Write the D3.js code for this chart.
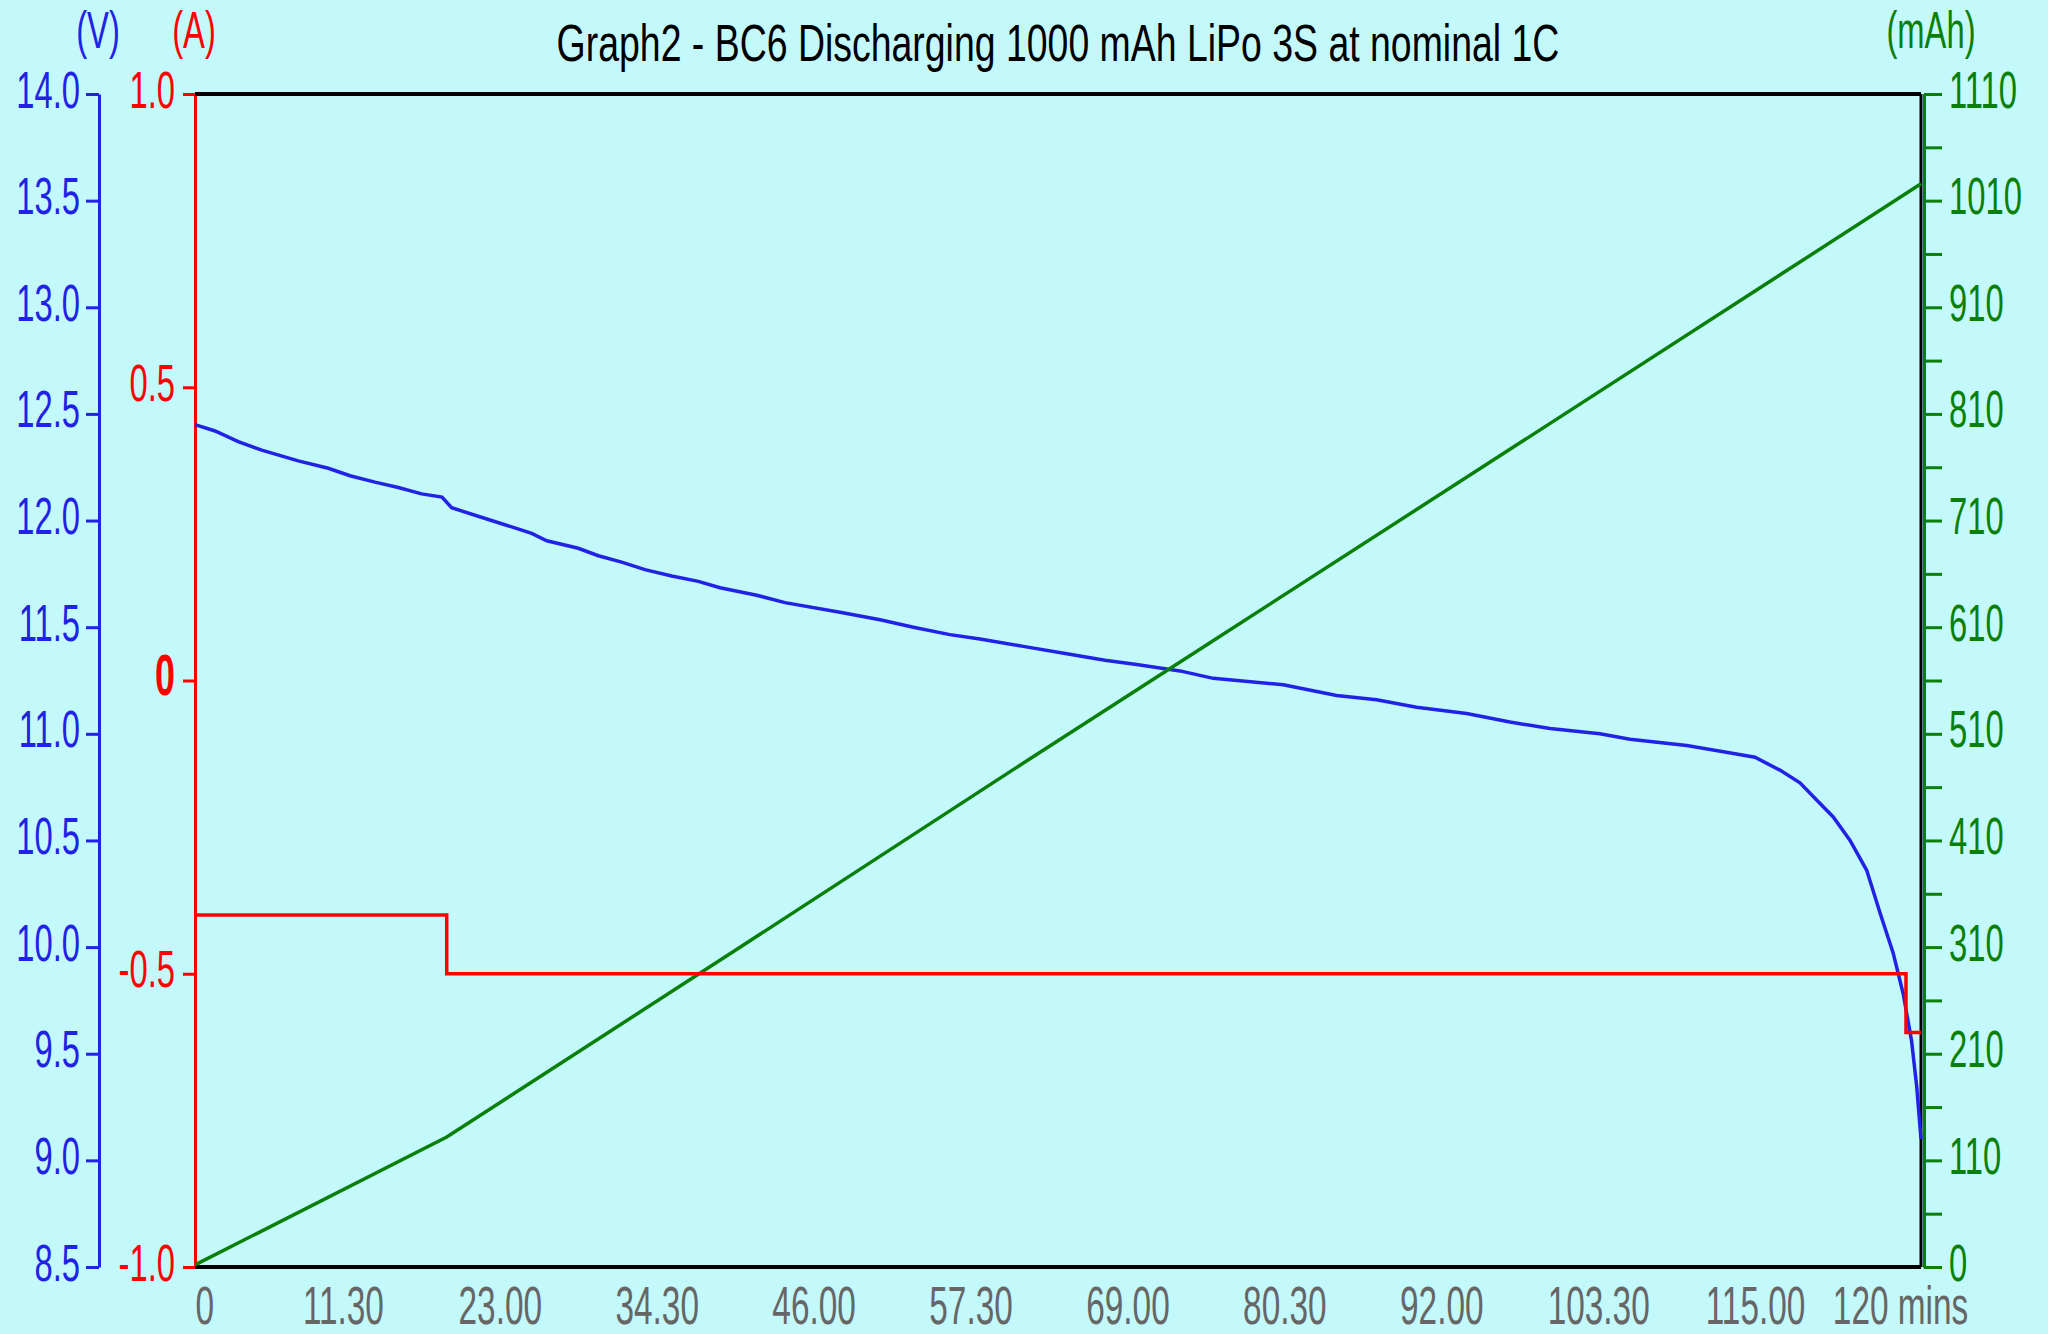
<!DOCTYPE html>
<html>
<head>
<meta charset="utf-8">
<script src="https://cdn.jsdelivr.net/npm/d3@7"></script>
<style>
  body { margin: 0; background: #c4f9fc; }
  svg { display: block; }
</style>
</head>
<body>
<svg id="chart"></svg>
<script>
// time in minutes
const timeMin = [0, 1.47, 3.17, 4.89, 7.57, 9.77, 11.36, 13.19, 14.9, 16.61, 18.1, 18.81, 21.5, 23.21, 24.68, 25.78, 28.09, 29.56, 31.27, 32.98, 34.94, 36.89, 38.48, 41.17, 43.24, 47.27, 50.21, 52.65, 55.33, 57.53, 60.71, 63.89, 66.69, 69.01, 72.19, 74.63, 79.76, 83.67, 86.6, 89.53, 93.2, 96.37, 99.31, 102.97, 105.17, 109.33, 112.13, 114.33, 116.16, 117.63, 118.85, 120.07, 121.3, 122.52, 123.5, 124.47, 125.2, 125.81, 126.18, 126.5];
const voltage = [12.45, 12.42, 12.37, 12.33, 12.28, 12.245, 12.21, 12.18, 12.155, 12.125, 12.11, 12.06, 12.005, 11.97, 11.94, 11.905, 11.87, 11.835, 11.805, 11.77, 11.74, 11.715, 11.685, 11.65, 11.615, 11.57, 11.535, 11.5, 11.465, 11.445, 11.41, 11.375, 11.345, 11.325, 11.295, 11.26, 11.23, 11.18, 11.16, 11.125, 11.095, 11.055, 11.025, 11.0, 10.975, 10.945, 10.915, 10.89, 10.83, 10.77, 10.69, 10.61, 10.5, 10.36, 10.16, 9.97, 9.78, 9.56, 9.35, 9.1];

const capTime = [0, 18.45, 40, 61.2, 74.9, 100, 126.5];
const capacity = [2, 123, 303, 481, 595, 804, 1025];

const currentTime = [0, 18.45, 125.4, 126.5];
const current = [-0.4, -0.5, -0.6, -0.6];

const timeTicks = [0, 11.5, 23, 34.5, 46, 57.5, 69, 80.5, 92, 103.5, 115, 120];
const timeTickLabels = ["0", "11.30", "23.00", "34.30", "46.00", "57.30", "69.00", "80.30", "92.00", "103.30", "115.00", "120 mins"];
const voltTicks = [8.5, 9.0, 9.5, 10.0, 10.5, 11.0, 11.5, 12.0, 12.5, 13.0, 13.5, 14.0];
const ampTicks = [-1, -0.5, 0, 0.5, 1];
const ampTickLabels = ["-1.0", "-0.5", "0", "0.5", "1.0"];
const mAhTickLabels = ["0", "110", "210", "310", "410", "510", "610", "710", "810", "910", "1010", "1110"];

const W = 2048, H = 1334;
const margin = { top: 94, right: 127, bottom: 67, left: 195 };
const BLUE = "#2222e6", RED = "#ff0000", GREEN = "#0a800a", GREY = "#666666";
const FONT = "'Liberation Sans', Arial, sans-serif";
const SX = 0.63;

const svg = d3.select("#chart").attr("width", W).attr("height", H);
svg.append("rect").attr("width", W).attr("height", H).attr("fill", "#c4f9fc");

const x = d3.scaleLinear().domain([0, 126.5]).range([margin.left, W - margin.right]);
const yV = d3.scaleLinear().domain([8.5, 14]).range([H - margin.bottom, margin.top]);
const yA = d3.scaleLinear().domain([-1, 1]).range([H - margin.bottom, margin.top]);
const yC = d3.scaleLinear().domain([0, 1110]).range([H - margin.bottom, margin.top]);

// narrow the text horizontally like the original bitmap
function squish(sel, sx) {
  sel.each(function () {
    const t = d3.select(this);
    const tx = +t.attr("x") || 0;
    t.attr("x", tx / sx).attr("transform", `scale(${sx},1)`);
  });
}

function styleAxis(g, color) {
  g.select(".domain").attr("stroke", color).attr("stroke-width", 3);
  g.selectAll(".tick line").attr("stroke", color).attr("stroke-width", 3);
  g.selectAll(".tick text")
    .attr("fill", color)
    .style("font-family", FONT)
    .style("font-size", "52px")
    .attr("dy", "0.25em");
}

// voltage axis
const vAxis = svg.append("g")
  .attr("transform", `translate(99,0)`)
  .call(d3.axisLeft(yV).tickValues(voltTicks).tickFormat(d3.format(".1f"))
    .tickSize(13).tickPadding(6).tickSizeOuter(0));
styleAxis(vAxis, BLUE);
squish(vAxis.selectAll(".tick text"), SX);

// current axis
const aAxis = svg.append("g")
  .attr("transform", `translate(${margin.left},0)`)
  .call(d3.axisLeft(yA).tickValues(ampTicks).tickFormat((d, i) => ampTickLabels[i])
    .tickSize(12).tickPadding(8).tickSizeOuter(0));
styleAxis(aAxis, RED);
aAxis.selectAll(".tick text").filter(d => d === 0)
  .style("font-weight", "bold").style("font-size", "57px");
squish(aAxis.selectAll(".tick text"), SX);

// capacity axis, 11 divisions with minor ticks
const capStep = 1110 / 11;
const capAxis = svg.append("g")
  .attr("transform", `translate(${W - margin.right + 3},0)`)
  .call(d3.axisRight(yC).tickValues(d3.range(12).map(i => i * capStep))
    .tickFormat((d, i) => mAhTickLabels[i]).tickSize(18).tickPadding(7).tickSizeOuter(0));
styleAxis(capAxis, GREEN);
squish(capAxis.selectAll(".tick text"), SX);
const capMinor = svg.append("g")
  .attr("transform", `translate(${W - margin.right + 3},0)`)
  .call(d3.axisRight(yC).tickValues(d3.range(11).map(i => (i + 0.5) * capStep))
    .tickFormat("").tickSize(18).tickSizeOuter(0));
styleAxis(capMinor, GREEN);

// time labels (no ticks)
const tAxis = svg.append("g")
  .attr("transform", `translate(0,${H - margin.bottom})`)
  .call(d3.axisBottom(x).tickValues(timeTicks).tickFormat((d, i) => timeTickLabels[i])
    .tickSize(0).tickPadding(0));
tAxis.select(".domain").remove();
tAxis.selectAll(".tick text")
  .attr("fill", GREY)
  .style("font-family", FONT)
  .style("font-size", "53px")
  .attr("y", 57).attr("dy", 0)
  .attr("text-anchor", (d, i) => (i === 0 || i === timeTicks.length - 1) ? "start" : "middle")
  .attr("x", (d, i) => (i === 0 || i === timeTicks.length - 1) ? 0 : -9);
squish(tAxis.selectAll(".tick text"), SX);

// plot frame
const frame = svg.append("g").attr("stroke", "#000").attr("fill", "none");
frame.append("line").attr("x1", margin.left).attr("x2", W - margin.right)
  .attr("y1", margin.top).attr("y2", margin.top).attr("stroke-width", 4);
frame.append("line").attr("x1", margin.left).attr("x2", W - margin.right)
  .attr("y1", H - margin.bottom).attr("y2", H - margin.bottom).attr("stroke-width", 4);
frame.append("line").attr("x1", W - margin.right).attr("x2", W - margin.right)
  .attr("y1", margin.top).attr("y2", H - margin.bottom).attr("stroke-width", 3);

// series
const vLine = d3.line().x((d, i) => x(timeMin[i])).y(d => yV(d));
svg.append("path").datum(voltage).attr("d", vLine)
  .attr("fill", "none").attr("stroke", BLUE).attr("stroke-width", 3.5);

const cLine = d3.line().x((d, i) => x(capTime[i])).y(d => yC(d));
svg.append("path").datum(capacity).attr("d", cLine)
  .attr("fill", "none").attr("stroke", GREEN).attr("stroke-width", 3.5);

const aLine = d3.line().x((d, i) => x(currentTime[i])).y(d => yA(d)).curve(d3.curveStepAfter);
svg.append("path").datum(current).attr("d", aLine)
  .attr("fill", "none").attr("stroke", RED).attr("stroke-width", 3.5);

// unit labels
const units = [["(V)", 98, BLUE], ["(A)", 194, RED], ["(mAh)", 1931, GREEN]];
units.forEach(([txt, ux, col]) => {
  svg.append("text").attr("class", "unit")
    .attr("x", ux).attr("y", 48)
    .attr("text-anchor", "middle")
    .attr("fill", col)
    .style("font-family", FONT).style("font-size", "52px")
    .text(txt);
});
squish(svg.selectAll(".unit"), SX);

// title, squeezed to the width it has in the original
const title = svg.append("text")
  .attr("x", (margin.left + W - margin.right) / 2)
  .attr("y", 61)
  .attr("text-anchor", "middle")
  .style("font-family", FONT).style("font-size", "52px")
  .attr("fill", "#000")
  .text("Graph2 - BC6 Discharging 1000 mAh LiPo 3S at nominal 1C");
squish(title, 1003 / title.node().getComputedTextLength());
</script>
</body>
</html>
